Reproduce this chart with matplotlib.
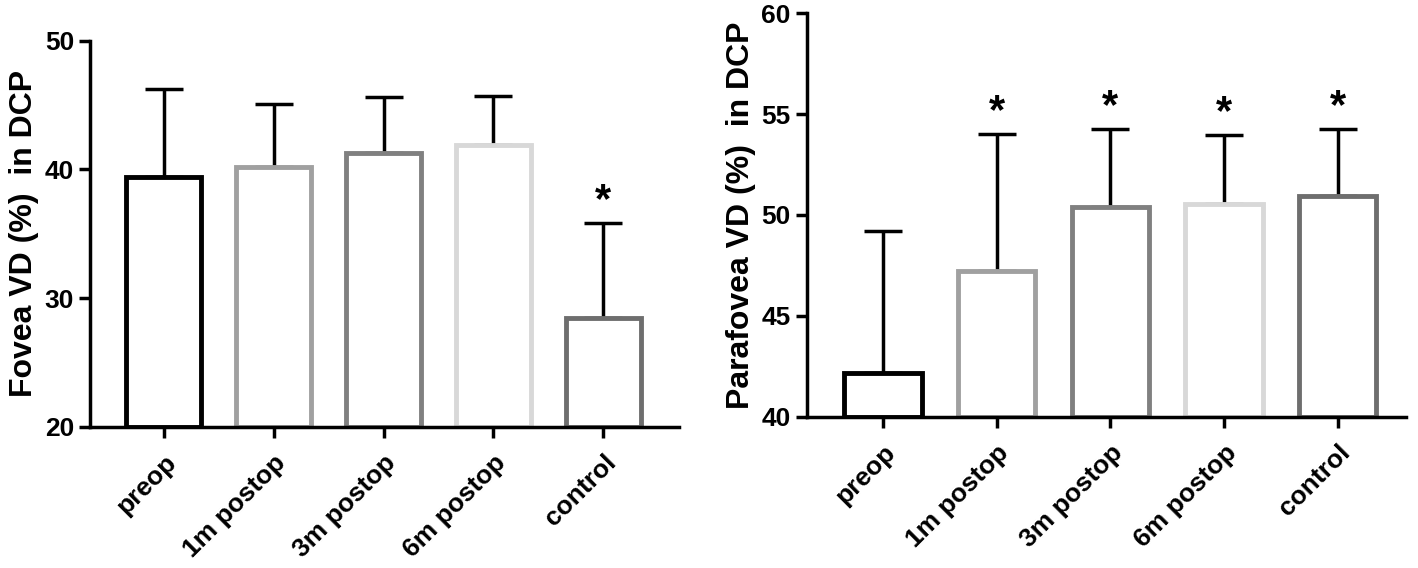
import matplotlib
matplotlib.use('Agg')
import matplotlib.pyplot as plt

plt.rcParams['font.family'] = ['Liberation Sans', 'DejaVu Sans']
plt.rcParams['font.weight'] = 'bold'

groups = ['preop', '1m postop', '3m postop', '6m postop', 'control']
edge_colors = ['#000000', '#a0a0a0', '#808080', '#d8d8d8', '#6e6e6e']

fovea_mean = [39.4, 40.2, 41.3, 41.9, 28.45]
fovea_upper = [46.25, 45.1, 45.65, 45.7, 35.8]
fovea_star = [False, False, False, False, True]

para_mean = [42.15, 47.25, 50.4, 50.55, 50.95]
para_upper = [49.2, 54.0, 54.25, 53.95, 54.25]
para_star = [False, True, True, True, True]

fig = plt.figure(figsize=(14.18, 5.68), dpi=100)
ax1 = fig.add_axes([0.0635, 0.249, 0.4155, 0.679])
ax2 = fig.add_axes([0.569, 0.266, 0.4225, 0.711])


def draw(ax, mean, upper, star, ylim, yticks, xlim, ylabel):
    x = list(range(len(groups)))
    base = ylim[0]
    ax.bar(x, [m - base for m in mean], bottom=base, width=0.68,
           color='white', edgecolor=edge_colors, linewidth=3.5, zorder=2)
    err = [[0] * len(mean), [u - m for u, m in zip(upper, mean)]]
    ax.errorbar(x, mean, yerr=err, fmt='none', ecolor='black',
                elinewidth=2.5, capsize=14, capthick=2.5, zorder=1)
    for xi, u, s in zip(x, upper, star):
        if s:
            ax.text(xi, u + (ylim[1] - ylim[0]) * 0.005, '*', ha='center',
                    va='bottom', fontsize=30, fontweight='bold')
    ax.set_ylim(*ylim)
    ax.set_xlim(*xlim)
    ax.set_yticks(yticks)
    ax.set_xticks(x)
    ax.set_xticklabels(groups, rotation=45, ha='right', rotation_mode='anchor',
                       fontsize=19, fontweight='bold')
    ax.tick_params(axis='y', labelsize=19, width=2.5, length=8)
    ax.tick_params(axis='x', width=2.5, length=8, pad=9)
    for lab in ax.get_yticklabels():
        lab.set_fontweight('bold')
    ax.spines['top'].set_visible(False)
    ax.spines['right'].set_visible(False)
    ax.spines['left'].set_linewidth(2.5)
    ax.spines['bottom'].set_linewidth(2.5)
    ax.set_ylabel(ylabel, fontsize=23, fontweight='bold', labelpad=4)


draw(ax1, fovea_mean, fovea_upper, fovea_star, (20, 50), [20, 30, 40, 50],
     (-0.67, 4.69), 'Fovea VD (%)  in DCP')
draw(ax2, para_mean, para_upper, para_star, (40, 60), [40, 45, 50, 55, 60],
     (-0.67, 4.6), 'Parafovea VD (%)  in DCP')

fig.savefig('out.png', dpi=100)
